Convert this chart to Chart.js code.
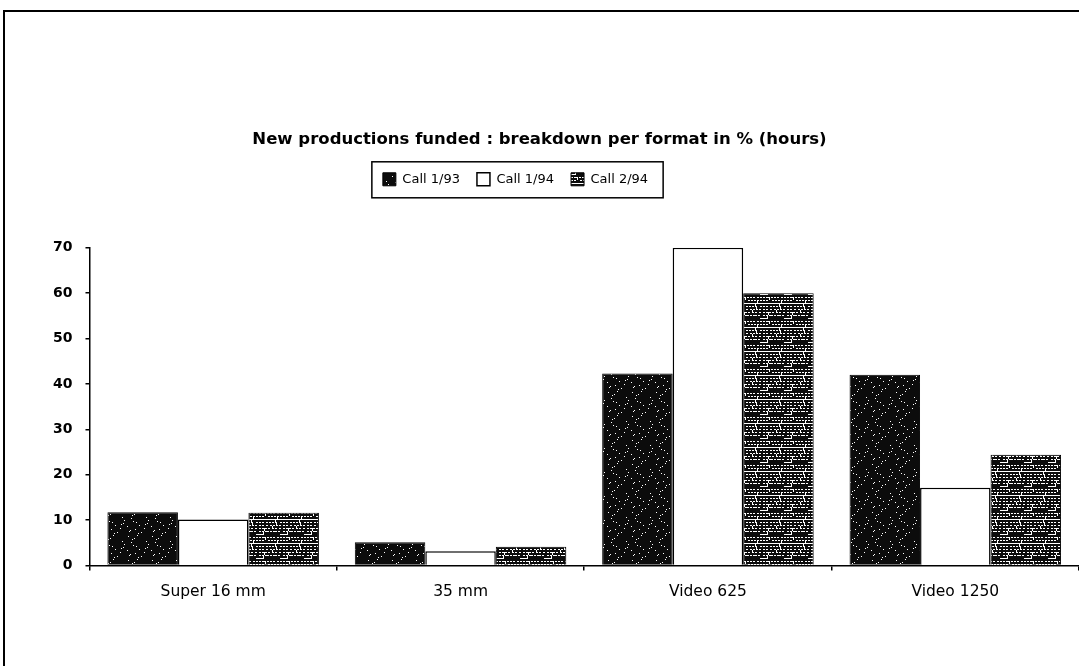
<!DOCTYPE html>
<html>
<head>
<meta charset="utf-8">
<script src="https://cdn.jsdelivr.net/npm/chart.js@4/dist/chart.umd.min.js"></script>
<style>
  html, body { margin: 0; padding: 0; background: #fff; }
  #wrap { width: 1079px; height: 666px; position: relative; }
</style>
</head>
<body>
<div id="wrap"><canvas id="formatChart"></canvas></div>
<script>
// values (% of hours)
const categories = ['Super 16 mm', '35 mm', 'Video 625', 'Video 1250'];
const seriesNames = ['Call 1/93', 'Call 1/94', 'Call 2/94'];
const call193 = [11.7, 5.1, 42.3, 42.0];
const call194 = [10.1, 3.1, 70.0, 17.1];
const call294 = [11.6, 4.1, 60.0, 24.4];
const yTicks = [0, 10, 20, 30, 40, 50, 60, 70];

// scanned-print textures for the dark bars
function makePattern(kind) {
    const c = document.createElement('canvas');
    c.width = 24; c.height = 24;
    const g = c.getContext('2d');
    g.fillStyle = '#0c0c0c';
    g.fillRect(0, 0, 24, 24);
    g.fillStyle = '#ffffff';
    for (let y = 0; y < 24; y++) {
        for (let x = 0; x < 24; x++) {
            const h = (x * 37 + y * 91 + x * y * 13) % 29;
            if (kind === 'dots' && h === 0) g.fillRect(x, y, 1, 1);
            if (kind === 'dash' && y % 3 === 0 && h < 9) g.fillRect(x, y, 2, 1);
            if (kind === 'dash' && y % 3 === 1 && h === 4) g.fillRect(x, y, 1, 2);
        }
    }
    return g.createPattern(c, 'repeat');
}

const FONT = '"DejaVu Sans", "Liberation Sans", Arial, sans-serif';

const framePlugin = {
    id: 'frame',
    afterLayout(chart) {
        // title and legend sit a bit left of the plot centre in the original
        const t = chart.titleBlock;
        t.left -= 20; t.right -= 20; t.top += 10; t.bottom += 10;
        const lg = chart.legend;
        lg.left -= 44; lg.right -= 44;
    },
    beforeDraw(chart) {
        const ctx = chart.ctx;
        ctx.save();
        ctx.strokeStyle = '#000';
        ctx.lineWidth = 2;
        ctx.beginPath();
        ctx.moveTo(4, 666);
        ctx.lineTo(4, 11);
        ctx.lineTo(1079, 11);
        ctx.stroke();
        ctx.restore();
    },
    afterDraw(chart) {
        // box around the legend
        const boxes = chart.legend.legendHitBoxes;
        if (!boxes || !boxes.length) return;
        let l = Infinity, r = -Infinity, t = Infinity, b = -Infinity;
        boxes.forEach(h => {
            l = Math.min(l, h.left); r = Math.max(r, h.left + h.width);
            t = Math.min(t, h.top); b = Math.max(b, h.top + h.height);
        });
        const ctx = chart.ctx;
        ctx.save();
        ctx.strokeStyle = '#000';
        ctx.lineWidth = 1.5;
        ctx.strokeRect(l - 11, t - 11, (r - l) + 26, (b - t) + 23);
        ctx.restore();
    }
};

const legendHeight = {
    id: 'legendHeight',
    beforeInit(chart) {
        const fit = chart.legend.fit;
        chart.legend.fit = function () {
            fit.bind(chart.legend)();
            this.height = 92;
        };
    }
};

Chart.defaults.font.family = FONT;
Chart.defaults.color = '#000';

new Chart(document.getElementById('formatChart'), {
    type: 'bar',
    data: {
        labels: categories,
        datasets: [
            { label: seriesNames[0], data: call193, backgroundColor: makePattern('dots'), borderColor: '#000', borderWidth: 1 },
            { label: seriesNames[1], data: call194, backgroundColor: '#ffffff', borderColor: '#000', borderWidth: 1.5 },
            { label: seriesNames[2], data: call294, backgroundColor: makePattern('dash'), borderColor: '#000', borderWidth: 1 }
        ]
    },
    plugins: [framePlugin, legendHeight],
    options: {
        responsive: true,
        maintainAspectRatio: false,
        animation: false,
        layout: { padding: { top: 120, left: 40, right: 0, bottom: 53 } },
        datasets: { bar: { barPercentage: 1.0, categoryPercentage: 0.855 } },
        plugins: {
            title: {
                display: true,
                text: 'New productions funded : breakdown per format in % (hours)',
                font: { size: 16.5, weight: 'bold' },
                color: '#000',
                padding: { top: 0, bottom: 16 }
            },
            legend: {
                position: 'top',
                labels: {
                    boxWidth: 13,
                    boxHeight: 13,
                    font: { size: 13 },
                    color: '#000',
                    padding: 17
                }
            },
            tooltip: { enabled: false }
        },
        scales: {
            x: {
                grid: { display: true, drawOnChartArea: false, offset: true, tickLength: 5, color: '#000', lineWidth: 1.5 },
                border: { display: true, color: '#000', width: 1.5 },
                ticks: { font: { size: 15.5 }, color: '#000', padding: 12 }
            },
            y: {
                min: 0,
                max: 70,
                afterBuildTicks(scale) { scale.ticks = yTicks.map(v => ({ value: v })); },
                grid: { drawOnChartArea: false, tickLength: 4, color: '#000', lineWidth: 1.5 },
                border: { display: true, color: '#000', width: 1.5 },
                ticks: { font: { size: 14, weight: 'bold' }, color: '#000', padding: 13 }
            }
        }
    }
});
</script>
</body>
</html>
